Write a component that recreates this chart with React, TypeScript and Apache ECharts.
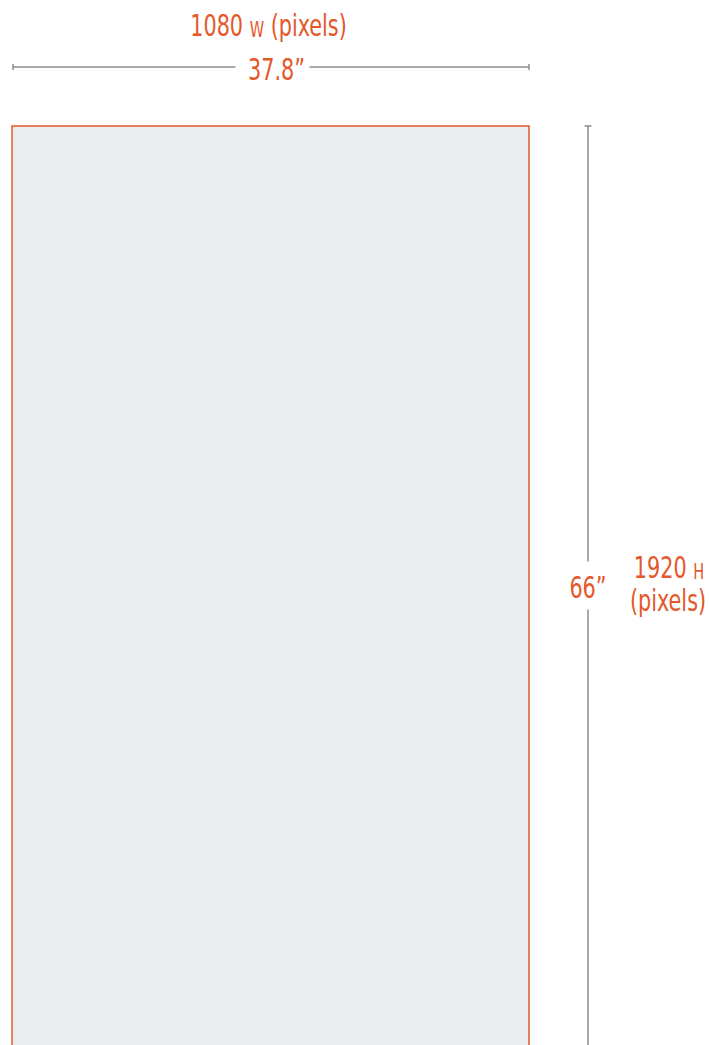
import React, { useEffect, useRef } from "react";
import * as echarts from "echarts";

// Screen dimensions in pixels and inches
const dimensionsPx = [1080, 1920];
const dimensionsIn = [37.8, 66];
const dimensionLetters = ["W", "H"];
const unitLabel = "(pixels)";

const ORANGE = "#E4582B";
const GRAY = "#8C8C8C";
const FILL = "#EBECEE";
const FONT = "'Liberation Sans Narrow', 'DejaVu Sans Condensed', 'Roboto', sans-serif";
const SQUEEZE = 0.77;

export default function App() {
  const ref = useRef<HTMLDivElement>(null);

  useEffect(() => {
    document.body.style.margin = "0";
    if (!ref.current) return;
    const chart = echarts.init(ref.current, undefined, { renderer: "svg" });
    const [wPx, hPx] = dimensionsPx;
    const [wIn, hIn] = dimensionsIn;

    const label = (x: number, y: number, text: string, rich?: any) => ({
      type: "text",
      x,
      y,
      scaleX: SQUEEZE,
      style: {
        x: 0,
        y: 0,
        text,
        rich,
        fill: ORANGE,
        fontFamily: FONT,
        fontSize: 30,
        align: "center",
        verticalAlign: "middle",
      },
    });

    const rich = {
      n: { fontFamily: FONT, fontSize: 30, fill: ORANGE, lineHeight: 34, verticalAlign: "bottom" },
      s: { fontFamily: FONT, fontSize: 21, fill: ORANGE, lineHeight: 34, verticalAlign: "bottom" },
    };

    const option: any = {
      animation: false,
      grid: { left: 12, top: 126, right: 180, bottom: 0 },
      xAxis: { type: "value", min: 0, max: wPx, show: false },
      yAxis: { type: "value", min: 0, max: hPx, inverse: true, show: false },
      series: [
        {
          type: "custom",
          clip: false,
          data: [[0, 0, wPx, hPx]],
          renderItem: (params: any, api: any) => {
            const p0 = api.coord([api.value(0), api.value(1)]);
            const p1 = api.coord([api.value(2), api.value(3)]);
            const x0 = p0[0], y0 = p0[1], x1 = p1[0], y1 = p1[1];
            const cx = (x0 + x1) / 2 + 2;
            const cy = (y0 + y1) / 2;
            const hy = y0 - 59;
            const vx = x1 + 59;
            const hGap = 37;
            const vGap = 24;
            const lineStyle = { stroke: GRAY, lineWidth: 1.5 };
            return {
              type: "group",
              children: [
                {
                  type: "rect",
                  shape: { x: x0, y: y0, width: x1 - x0, height: y1 - y0 + 4 },
                  style: { fill: FILL, stroke: ORANGE, lineWidth: 1.5 },
                },
                // horizontal dimension line
                { type: "line", shape: { x1: x0 + 1, y1: hy, x2: cx - hGap, y2: hy }, style: lineStyle },
                { type: "line", shape: { x1: cx + hGap, y1: hy, x2: x1, y2: hy }, style: lineStyle },
                { type: "line", shape: { x1: x0 + 1, y1: hy - 3, x2: x0 + 1, y2: hy + 3 }, style: lineStyle },
                { type: "line", shape: { x1: x1, y1: hy - 3, x2: x1, y2: hy + 3 }, style: lineStyle },
                // vertical dimension line
                { type: "line", shape: { x1: vx, y1: y0, x2: vx, y2: cy - vGap }, style: lineStyle },
                { type: "line", shape: { x1: vx, y1: cy + vGap, x2: vx, y2: y1 + 4 }, style: lineStyle },
                { type: "line", shape: { x1: vx - 3.5, y1: y0, x2: vx + 3.5, y2: y0 }, style: lineStyle },
                // labels
                label(cx - 4, y0 - 103, `{n|${wPx}} {s|${dimensionLetters[0]}} {n|${unitLabel}}`, rich),
                label(cx + 4, hy + 2, `${wIn}\u201D`),
                label(vx, cy + 2, `${hIn}\u201D`),
                label(vx + 81, cy - 20, `{n|${hPx}} {s|${dimensionLetters[1]}}`, rich),
                label(vx + 80, cy + 15, unitLabel),
              ],
            };
          },
        },
      ],
    };
    chart.setOption(option);
    return () => chart.dispose();
  }, []);

  return <div ref={ref} style={{ width: 709, height: 1045 }} />;
}
